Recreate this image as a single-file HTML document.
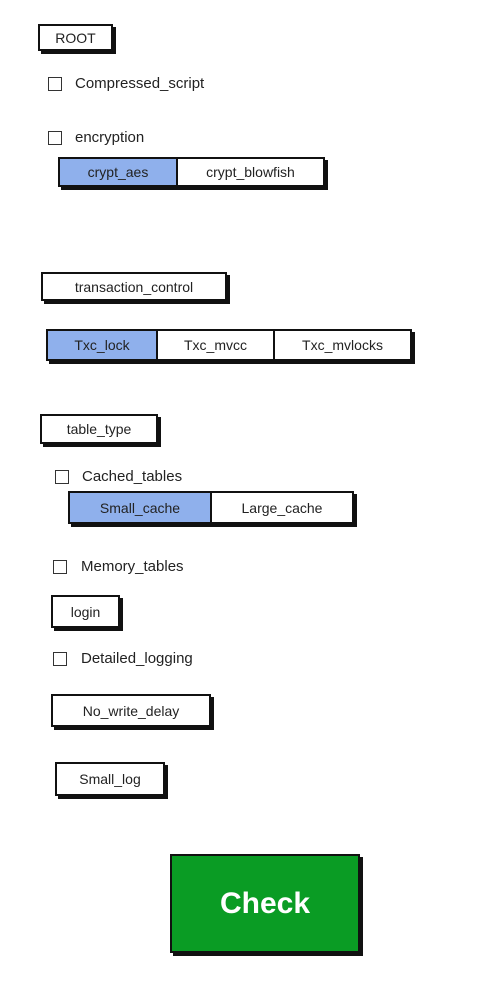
<!DOCTYPE html>
<html><head><style>
body{margin:0;width:490px;height:1008px;background:#fff;position:relative;overflow:hidden;font-family:"Liberation Sans",sans-serif;color:#222;}
.b{position:absolute;box-sizing:border-box;border:2px solid #111;background:#fff;box-shadow:3px 3px 0 #111;font-size:14px;display:flex;align-items:center;justify-content:center;}
.seg{position:absolute;box-sizing:border-box;border:2px solid #111;box-shadow:3px 3px 0 #111;display:flex;font-size:14px;background:#fff;}
.seg div{display:flex;align-items:center;justify-content:center;height:100%;box-sizing:border-box;}
.seg div+div{border-left:2px solid #111;}
.on{background:#8fb0ec;}
.cb{position:absolute;width:12px;height:12px;border:1.5px solid #333;background:#fff;}
.t{position:absolute;font-size:15px;line-height:18px;}
</style></head><body>
<div class="b" style="left:38px;top:24px;width:75px;height:27px;">ROOT</div>
<div class="cb" style="left:48px;top:77px"></div><div class="t" style="left:75px;top:75px">Compressed_script</div>
<div class="cb" style="left:48px;top:131px"></div><div class="t" style="left:75px;top:129px">encryption</div>
<div class="seg" style="left:58px;top:157px;width:267px;height:30px;"><div class="on" style="width:116px">crypt_aes</div><div style="flex:1">crypt_blowfish</div></div>
<div class="b" style="left:41px;top:272px;width:186px;height:29px;">transaction_control</div>
<div class="seg" style="left:46px;top:329px;width:366px;height:32px;"><div class="on" style="width:108px">Txc_lock</div><div style="width:117px">Txc_mvcc</div><div style="flex:1">Txc_mvlocks</div></div>
<div class="b" style="left:40px;top:414px;width:118px;height:30px;">table_type</div>
<div class="cb" style="left:55px;top:470px"></div><div class="t" style="left:82px;top:468px">Cached_tables</div>
<div class="seg" style="left:68px;top:491px;width:286px;height:33px;"><div class="on" style="width:140px">Small_cache</div><div style="flex:1">Large_cache</div></div>
<div class="cb" style="left:53px;top:560px"></div><div class="t" style="left:81px;top:558px">Memory_tables</div>
<div class="b" style="left:51px;top:595px;width:69px;height:33px;">login</div>
<div class="cb" style="left:53px;top:652px"></div><div class="t" style="left:81px;top:650px">Detailed_logging</div>
<div class="b" style="left:51px;top:694px;width:160px;height:33px;">No_write_delay</div>
<div class="b" style="left:55px;top:762px;width:110px;height:34px;">Small_log</div>
<div class="b" style="left:170px;top:854px;width:190px;height:99px;background:#0a9c24;color:#fff;font-size:30px;font-weight:bold;">Check</div>
</body></html>
